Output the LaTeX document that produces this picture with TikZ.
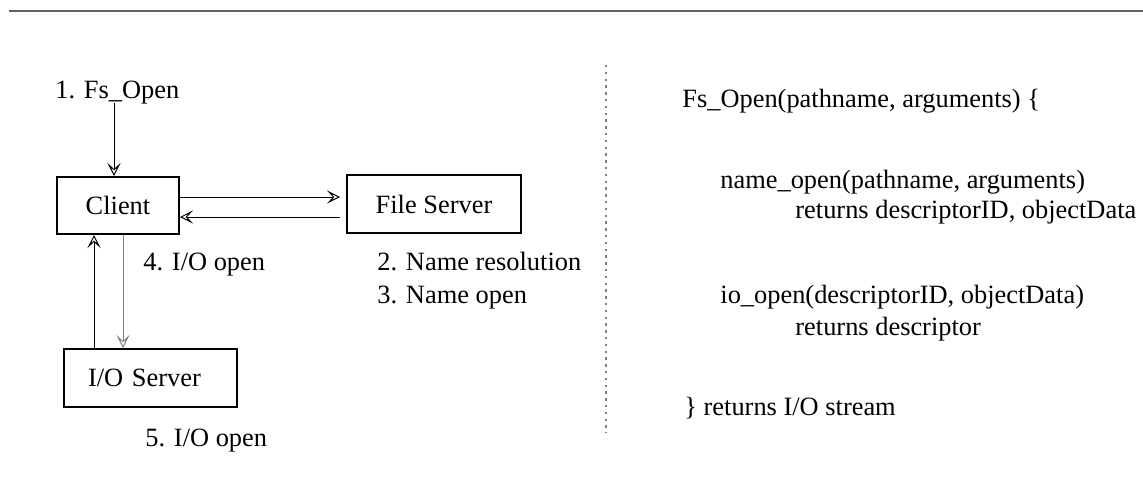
\documentclass[tikz,border=0pt]{standalone}
\usepackage{fontspec}
\setmainfont{Liberation Serif}
\usetikzlibrary{arrows.meta}
\begin{document}
\begin{tikzpicture}[x=0.5pt,y=-0.5pt,
  txt/.style={font=\fontsize{13.2pt}{16pt}\selectfont},
  lbl/.style={txt,anchor=base west,inner sep=0pt},
  box/.style={txt,draw,line width=1pt,inner sep=0pt},
  arr/.style={line width=0.5pt,-{Stealth[open,length=6.5pt,width=6.5pt,inset=3pt]}},
  rule/.style={draw=black!62,line width=1pt},
  divider/.style={draw=black!50,line width=0.65pt,dash pattern=on 1.2pt off 2.2pt}]
\useasboundingbox (0,0) rectangle (1143,476);

% heading rule
\coordinate (ruleL) at (9,11);
\coordinate (ruleR) at (1143,11);
\draw[rule] (ruleL) -- (ruleR);

% servers
\node[box,minimum width=61pt,minimum height=28.5pt] (client) at (118,205.5) {Client};
\node[box,minimum width=87pt,minimum height=29pt] (fs) at (434,204) {File Server};
\node[box,minimum width=86.5pt,minimum height=29pt,text width=62.5pt,align=left,inner xsep=12pt] (ios) at (150.5,378) {I/O Server};

% step labels
\node[lbl] (s1) at (55,98) {1. Fs\_Open};
\node[lbl] (s2) at (377,270) {2. Name resolution};
\node[lbl] (s3) at (377,303) {3. Name open};
\node[lbl] (s4) at (143,270) {4. I/O open};
\node[lbl] (s5) at (145,446) {5. I/O open};

% message arrows
\coordinate (call) at (114,103);
\draw[arr] (call) -- (call |- client.north);
\draw[arr] (client.east |- 0,197) -- ([xshift=-3pt]fs.west |- 0,197);
\draw[arr] ([xshift=-3pt]fs.west |- 0,217) -- (client.east |- 0,217);
\draw[arr] (ios.north -| 94,0) -- (client.south -| 94,0);
\draw[arr,draw=black!50] (client.south -| 123,0) -- (ios.north -| 123,0);

% divider
\coordinate (divT) at (606,65);
\coordinate (divB) at (606,433);
\draw[divider] (divT) -- (divB);

% pseudo-code
\node[lbl] (c1) at (682,107) {Fs\_Open(pathname, arguments) \{};
\node[lbl] (c2) at (720,188) {name\_open(pathname, arguments)};
\node[lbl] (c3) at (795,218) {returns descriptorID, objectData};
\node[lbl] (c4) at (720,303) {io\_open(descriptorID, objectData)};
\node[lbl] (c5) at (795,335) {returns descriptor};
\node[lbl] (c6) at (684,415) {\} returns I/O stream};
\end{tikzpicture}
\end{document}
